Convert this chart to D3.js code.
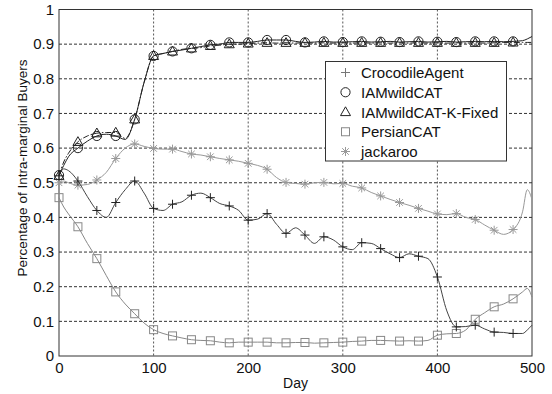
<!DOCTYPE html>
<html><head><meta charset="utf-8">
<script src="https://cdn.jsdelivr.net/npm/d3@7"></script>
<style>body{margin:0;background:#fff;} svg{display:block;font-family:"Liberation Sans",Arial,sans-serif;}</style>
</head><body>
<svg id="c" width="552" height="394"></svg>
<script>
const days = [0,5,10,20,30,40,50,60,70,80,90,100,110,120,130,140,150,160,170,180,190,200,210,220,230,240,250,260,270,280,290,300,310,320,330,340,350,360,370,380,390,400,410,420,430,440,450,460,470,480,490,495,500];
const crocodile = [0.52,0.54,0.535,0.505,0.46,0.42,0.40,0.443,0.48,0.505,0.47,0.426,0.42,0.438,0.445,0.464,0.47,0.457,0.44,0.433,0.42,0.392,0.395,0.411,0.38,0.354,0.37,0.349,0.325,0.344,0.335,0.315,0.307,0.327,0.325,0.31,0.295,0.284,0.295,0.288,0.281,0.228,0.13,0.084,0.085,0.089,0.078,0.069,0.068,0.065,0.065,0.075,0.089];
const wildcat = [0.522,0.55,0.575,0.60,0.62,0.635,0.64,0.635,0.625,0.683,0.79,0.866,0.873,0.879,0.883,0.888,0.893,0.898,0.90,0.905,0.905,0.905,0.908,0.912,0.912,0.912,0.908,0.905,0.906,0.908,0.906,0.906,0.907,0.908,0.906,0.907,0.908,0.906,0.907,0.908,0.906,0.907,0.908,0.906,0.907,0.908,0.907,0.908,0.907,0.908,0.91,0.915,0.922];
const wildcatK = [0.52,0.56,0.585,0.618,0.635,0.643,0.645,0.645,0.628,0.683,0.79,0.866,0.873,0.879,0.885,0.888,0.89,0.895,0.897,0.90,0.90,0.902,0.903,0.904,0.903,0.904,0.903,0.904,0.903,0.904,0.903,0.904,0.903,0.904,0.903,0.904,0.903,0.904,0.903,0.904,0.903,0.904,0.903,0.904,0.903,0.904,0.903,0.904,0.905,0.905,0.905,0.905,0.905];
const persian = [0.457,0.43,0.41,0.373,0.325,0.281,0.232,0.185,0.15,0.122,0.095,0.076,0.065,0.058,0.052,0.047,0.045,0.044,0.04,0.038,0.04,0.04,0.04,0.04,0.038,0.038,0.039,0.039,0.037,0.038,0.039,0.04,0.042,0.043,0.045,0.045,0.044,0.043,0.044,0.043,0.045,0.06,0.064,0.065,0.075,0.106,0.125,0.142,0.15,0.165,0.185,0.195,0.17];
const jackaroo = [0.50,0.505,0.50,0.493,0.495,0.508,0.53,0.57,0.60,0.612,0.605,0.599,0.597,0.597,0.59,0.583,0.58,0.575,0.57,0.566,0.562,0.556,0.55,0.539,0.515,0.501,0.498,0.496,0.50,0.501,0.497,0.498,0.49,0.485,0.472,0.462,0.452,0.443,0.435,0.426,0.418,0.41,0.408,0.411,0.40,0.394,0.378,0.363,0.351,0.365,0.416,0.48,0.452];
const seriesNames = ["CrocodileAgent","IAMwildCAT","IAMwildCAT-K-Fixed","PersianCAT","jackaroo"];
const xTicks = [0,100,200,300,400,500];
const yTicks = [0,0.1,0.2,0.3,0.4,0.5,0.6,0.7,0.8,0.9,1];

const series = [
  {name:seriesNames[0], vals:crocodile, line:"#444", mark:"#222", sym:"plus", dash:null},
  {name:seriesNames[1], vals:wildcat, line:"#222", mark:"#222", sym:"circle", dash:null},
  {name:seriesNames[2], vals:wildcatK, line:"#222", mark:"#222", sym:"triangle", dash:"6,2,1.5,2"},
  {name:seriesNames[3], vals:persian, line:"#888", mark:"#888", sym:"square", dash:null},
  {name:seriesNames[4], vals:jackaroo, line:"#999", mark:"#999", sym:"star", dash:null}
];

const svg = d3.select("#c");
const L=59,R=532,T=9.5,B=356;
const x = d3.scaleLinear().domain([0,500]).range([L,R]);
const y = d3.scaleLinear().domain([0,1]).range([B,T]);

// grid
const g = svg.append("g");
g.selectAll(".gx").data(xTicks.slice(1,-1)).enter().append("line")
  .attr("x1",d=>x(d)).attr("x2",d=>x(d)).attr("y1",T).attr("y2",B)
  .attr("stroke","#555").attr("stroke-width",1).attr("stroke-dasharray","2,2");
g.selectAll(".gy").data(yTicks.slice(1,-1)).enter().append("line")
  .attr("y1",d=>y(d)).attr("y2",d=>y(d)).attr("x1",L).attr("x2",R)
  .attr("stroke","#333").attr("stroke-width",1).attr("stroke-dasharray","3,2");

// axes
const xa = svg.append("g").attr("transform",`translate(0,${B})`)
  .call(d3.axisBottom(x).tickValues(xTicks).tickSize(0).tickPadding(6).tickFormat(d3.format("d")));
const ya = svg.append("g").attr("transform",`translate(${L},0)`)
  .call(d3.axisLeft(y).tickValues(yTicks).tickSize(0).tickPadding(5).tickFormat(d=>d===0?"0":(d===1?"1":d3.format(".1f")(d))));
[xa,ya].forEach(a=>{a.select(".domain").remove(); a.selectAll("text").attr("font-size","15px").attr("fill","#111").attr("font-family","Liberation Sans, Arial, sans-serif");});
svg.append("rect").attr("x",L).attr("y",T).attr("width",R-L).attr("height",B-T)
  .attr("fill","none").attr("stroke","#333").attr("stroke-width",1);

svg.append("text").attr("x",(L+R)/2).attr("y",388).attr("text-anchor","middle")
  .attr("font-size","14px").attr("fill","#111").text("Day");
svg.append("text").attr("transform","translate(27,168) rotate(-90)").attr("text-anchor","middle")
  .attr("font-size","13.5px").attr("fill","#111").text("Percentage of Intra-marginal Buyers");

// markers
function drawSym(sel, sym, color){
  const s = 4.5;
  if(sym==="plus"){
    sel.append("path").attr("d",`M${-s},0H${s}M0,${-s}V${s}`).attr("stroke",color).attr("fill","none");
  } else if(sym==="circle"){
    sel.append("circle").attr("r",4.6).attr("stroke",color).attr("fill","none");
  } else if(sym==="triangle"){
    sel.append("path").attr("d",`M0,${-5.2}L${5},${3.6}L${-5},${3.6}Z`).attr("stroke",color).attr("fill","none");
  } else if(sym==="square"){
    sel.append("rect").attr("x",-4).attr("y",-4).attr("width",8).attr("height",8).attr("stroke",color).attr("fill","none");
  } else if(sym==="star"){
    const d=3.3;
    sel.append("path").attr("d",`M${-s},0H${s}M0,${-s}V${s}M${-d},${-d}L${d},${d}M${-d},${d}L${d},${-d}`).attr("stroke",color).attr("fill","none");
  }
  sel.selectAll("*").attr("stroke-width",1);
}

const line = d3.line().x(d=>x(d[0])).y(d=>y(d[1])).curve(d3.curveMonotoneX);
const clip = svg.append("defs").append("clipPath").attr("id","pc").append("rect")
  .attr("x",L).attr("y",T-6).attr("width",R-L).attr("height",B-T+6);
const plot = svg.append("g");
// draw order: bottom series first
[4,3,0,2,1].forEach(i=>{
  const s = series[i];
  const pts = days.map((d,j)=>[d,s.vals[j]]);
  plot.append("path").datum(pts).attr("d",line).attr("fill","none")
    .attr("stroke",s.line).attr("stroke-width",1).attr("stroke-dasharray",s.dash);
  pts.filter(p=>p[0]%20===0 && p[0]<=480).forEach(p=>{
    const m = plot.append("g").attr("transform",`translate(${x(p[0])},${y(p[1])})`);
    drawSym(m, s.sym, s.mark);
  });
});

// legend
const lg = svg.append("g");
lg.append("rect").attr("x",325.5).attr("y",61.5).attr("width",181).attr("height",99.5)
  .attr("fill","#fff").attr("stroke","#333").attr("stroke-width",1);
const legY = d3.scalePoint().domain(seriesNames).range([72.5,151.5]);
series.forEach(s=>{
  const m = lg.append("g").attr("transform",`translate(345.5,${legY(s.name)})`);
  drawSym(m, s.sym, s.sym==="plus"?"#777":s.mark);
  lg.append("text").attr("x",361).attr("y",legY(s.name)+5.5).attr("font-size","15px").attr("fill","#111").text(s.name);
});
</script>
</body></html>
